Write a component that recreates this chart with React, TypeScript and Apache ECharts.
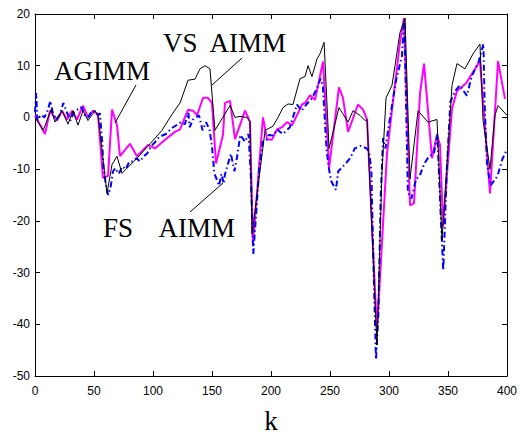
import React, { useEffect, useRef } from "react";
import * as echarts from "echarts";

// VS AIMM (black)
const kVs = [0, 7, 13.6, 17, 22.9, 28, 32.2, 36.4, 40.7, 44.9, 50.8, 53.4, 61, 65.3, 69.5, 73.7, 86.4, 97.5, 107.6, 116.1, 122.9, 129.7, 135.6, 139.8, 144.1, 148.3, 152.5, 165.3, 169.5, 173.7, 179.7, 182.2, 183.9, 195, 201.7, 205.9, 210.2, 214.4, 218.6, 224.6, 228.8, 231.4, 234.7, 239, 241.5, 245, 249.2, 257.6, 265.3, 269.5, 275.4, 279.7, 281.4, 289.8, 294, 297.5, 302.5, 305.1, 309.3, 313.6, 317.8, 324.6, 333, 340.7, 344.9, 353.4, 357.6, 364.4, 371.2, 377.1, 379.7, 385.6, 389.8, 392.4, 400];
const vsAimm = [0, -2.5, 1.5, -0.9, 1.3, -1.3, 1.3, -1.5, 1.3, -0.6, 1.3, 0.4, -14.7, -9.1, -7.5, -10.8, -7.9, -5.1, -2.5, 0.6, 2.8, 7.2, 7.4, 9.4, 10, 9.4, -2.5, 2.3, 0, 0.2, 0, -0.9, -22.6, -2.5, -1.7, 0, 1.9, 2.6, 2.5, 7.5, 7.9, 10, 7.9, 11.3, 12.3, 14.5, -6, 1.9, -0.9, 1.3, 0.4, -0.6, -0.4, -44, -10.8, 3.8, 6.2, 10, 16.4, 19.2, -11.9, 1.3, -0.9, -0.4, -23.8, 6.2, 10.4, 9.4, 12.3, 14.2, -0.6, -10, 0.4, 2.3, 0.4];

// AGIMM (magenta)
const kAg = [0, 8.5, 12.7, 18.6, 22.9, 27.1, 31.4, 35.6, 40.7, 44.9, 49.2, 53.4, 57.6, 61.9, 65.3, 69.5, 72, 80.5, 86.4, 95.8, 101.7, 110.2, 118.6, 122.9, 129.7, 133.9, 137.3, 142.4, 146.6, 150, 153.4, 159.3, 161, 165.3, 169.5, 178, 182.2, 184.7, 193.2, 196.6, 200.8, 205.1, 209.3, 213.6, 217.8, 222, 226.3, 228.8, 233.1, 237.3, 244.1, 249.2, 257.6, 261, 265.3, 273.7, 278, 281.4, 289.8, 298.3, 303.4, 309.3, 312.7, 317.8, 321.2, 326.3, 329.7, 336.4, 340.7, 343.2, 345.8, 353.4, 357.6, 365.3, 377.1, 385.6, 392.4, 398.3];
const agimm = [0.4, -3.2, 1.3, -0.6, 1.3, -0.4, 1.3, -0.4, 2.3, 0, 1.3, 0.6, -11.7, -11.3, 1.5, -1.5, -7.5, -5.1, -7.5, -5.3, -6, -4.3, -2.8, -2.3, 1.5, 1.3, 0.4, 3.8, 3.8, 2.8, -8.9, -3.4, 2.8, 3.2, -4.2, 1.3, -0.8, -24.5, 0, -4.2, -4.3, -2.3, -1.9, -0.9, -1.5, 0.4, 2.5, 2.8, 4.3, 3.4, 10.8, -9.8, 5.8, 3.8, -2.8, 2.5, 1.5, -0.4, -41.5, -7, 3.2, 14.5, 19.2, -17, -16.6, 4.7, 10.4, -7.9, -3.4, -5.3, -21.1, 1.7, 5.1, 6.6, 10.9, -14.7, 10.9, 3.6];

// FS AIMM (blue dash-dot)
const kFs = [0, 1, 2, 5, 8, 11, 13, 15, 18, 21, 24, 27, 30, 33, 36, 38, 40, 42, 45, 47, 50, 53, 55, 57, 58, 60, 62, 64, 66, 68, 71, 74, 77, 80, 83, 86, 89, 92, 95, 98, 100, 103, 105, 108, 111, 114, 117, 120, 124, 127, 130, 131, 134, 139, 142, 145, 148, 150, 152, 156, 158, 160, 161, 166, 169, 171, 174, 178, 181, 183, 185, 187, 190, 193, 196, 198, 202, 205, 210, 216, 222, 226, 230, 235, 239, 242, 244, 247, 249, 251, 255, 257, 263, 267, 271, 276, 281, 283, 285, 287, 289, 291, 293, 295, 297, 300, 306, 311, 313, 316, 319, 323, 326, 330, 334, 338, 341, 344, 346, 349, 352, 356, 360, 366, 370, 376, 380, 381, 383, 386, 392, 396, 400];
const fsAimm = [1, 4.7, -0.5, 0.5, 0, 1.5, 3.2, 1, -0.4, 0.5, 2.8, 1, -0.6, 1, 1.5, 2, 1.8, 0.5, 0, 0.8, 1.3, 0.5, 0.8, -5, -9.5, -13, -15, -13.6, -10.5, -9.8, -10.9, -9.5, -10, -8.5, -8.5, -7.9, -8.5, -7.5, -7, -5.7, -5.2, -4.5, -3.8, -3.5, -3.2, -2.5, -1.9, -1.5, -0.9, -1.3, 0.9, -1.9, -0.4, 0.4, -2.5, -0.9, -2.5, -5.7, -10.8, -13.2, -10.9, -12.8, -11, -7, -10.4, -8, -3.4, -4.7, -3.2, -12, -26.4, -20, -10, -4.7, -4.5, -3.4, -3.5, -2.3, -3.2, -1.9, 2.5, 1.3, 2.5, 3.8, 5.7, 7.5, 6, -6, -9.8, -12.3, -14, -10.4, -9, -7.9, -6, -5.5, -6, -6.5, -10, -30, -46.8, -38, -15, -4, -6, -1.3, 7.2, 11.9, 18.9, -14.5, -15.7, -11.9, -11.3, -8.9, -7.5, -7, -3.2, -20, -29.6, -10, 3, 5.1, 6.2, 4.2, 7.9, 10.8, 14.2, 3, -8.9, -13.2, -11.3, -8.1, -6.2];

const xTicks = ["0", "50", "100", "150", "200", "250", "300", "350", "400"];

const zip = (ks: number[], vs: number[]) => ks.map((k, i) => [k, vs[i]]);

const serif = "Liberation Serif";
const sans = "Liberation Sans";

export default function App() {
  const ref = useRef<HTMLDivElement>(null);
  useEffect(() => {
    const chart = echarts.init(ref.current!, null, { renderer: "svg" });
    const axisLine = { show: true, onZero: false, lineStyle: { color: "#000", width: 1 } };
    const tick = { show: true, inside: true, length: 5, lineStyle: { color: "#000" } };
    chart.setOption({
      animation: false,
      backgroundColor: "#fff",
      grid: { left: 35, top: 14, width: 472, height: 371 },
      xAxis: [
        {
          type: "value", min: 0, max: 400, interval: 50, position: "bottom",
          axisLine, axisTick: tick, splitLine: { show: false },
          axisLabel: { color: "#000", fontFamily: sans, fontSize: 12, margin: 9,
            formatter: (v: number) => xTicks[Math.round(v / 50)] ?? String(v) },
          name: "k", nameLocation: "middle", nameGap: 31,
          nameTextStyle: { color: "#000", fontFamily: serif, fontSize: 27 },
        },
        {
          type: "value", min: 0, max: 400, interval: 50, position: "top",
          axisLine, axisTick: tick, splitLine: { show: false }, axisLabel: { show: false },
        },
      ],
      yAxis: [
        {
          type: "value", min: -50, max: 20, interval: 10, position: "left",
          axisLine, axisTick: tick, splitLine: { show: false },
          axisLabel: { color: "#000", fontFamily: sans, fontSize: 12, margin: 5 },
        },
        {
          type: "value", min: -50, max: 20, interval: 10, position: "right",
          axisLine, axisTick: tick, splitLine: { show: false }, axisLabel: { show: false },
        },
      ],
      series: [
        {
          name: "AGIMM", type: "line", data: zip(kAg, agimm), showSymbol: false, symbol: "none",
          lineStyle: { color: "#ff00ff", width: 2 }, z: 2,
        },
        {
          name: "FS AIMM", type: "line", data: zip(kFs, fsAimm), showSymbol: false, symbol: "none",
          lineStyle: { color: "#0000ff", width: 2, type: [6, 3, 1.5, 3] }, z: 3,
        },
        {
          name: "VS AIMM", type: "line", data: zip(kVs, vsAimm), showSymbol: false, symbol: "none",
          lineStyle: { color: "#000", width: 1 }, z: 4,
        },
      ],
      graphic: [
        { type: "text", left: 54, top: 57, style: { text: "AGIMM", font: `27px "${serif}"`, fill: "#000" }, z: 10 },
        { type: "text", left: 163, top: 29, style: { text: "VS  AIMM", font: `27px "${serif}"`, fill: "#000" }, z: 10 },
        { type: "text", left: 103, top: 214, style: { text: "FS    AIMM", font: `27px "${serif}"`, fill: "#000" }, z: 10 },
        { type: "line", shape: { x1: 136, y1: 85, x2: 115, y2: 123 }, style: { stroke: "#000", lineWidth: 1 }, z: 10 },
        { type: "line", shape: { x1: 242, y1: 58, x2: 212, y2: 85 }, style: { stroke: "#000", lineWidth: 1 }, z: 10 },
        { type: "line", shape: { x1: 223, y1: 183, x2: 190, y2: 212 }, style: { stroke: "#000", lineWidth: 1 }, z: 10 },
      ],
    });
    return () => chart.dispose();
  }, []);
  return <div ref={ref} style={{ position: "fixed", left: 0, top: 0, width: 531, height: 439 }} />;
}
